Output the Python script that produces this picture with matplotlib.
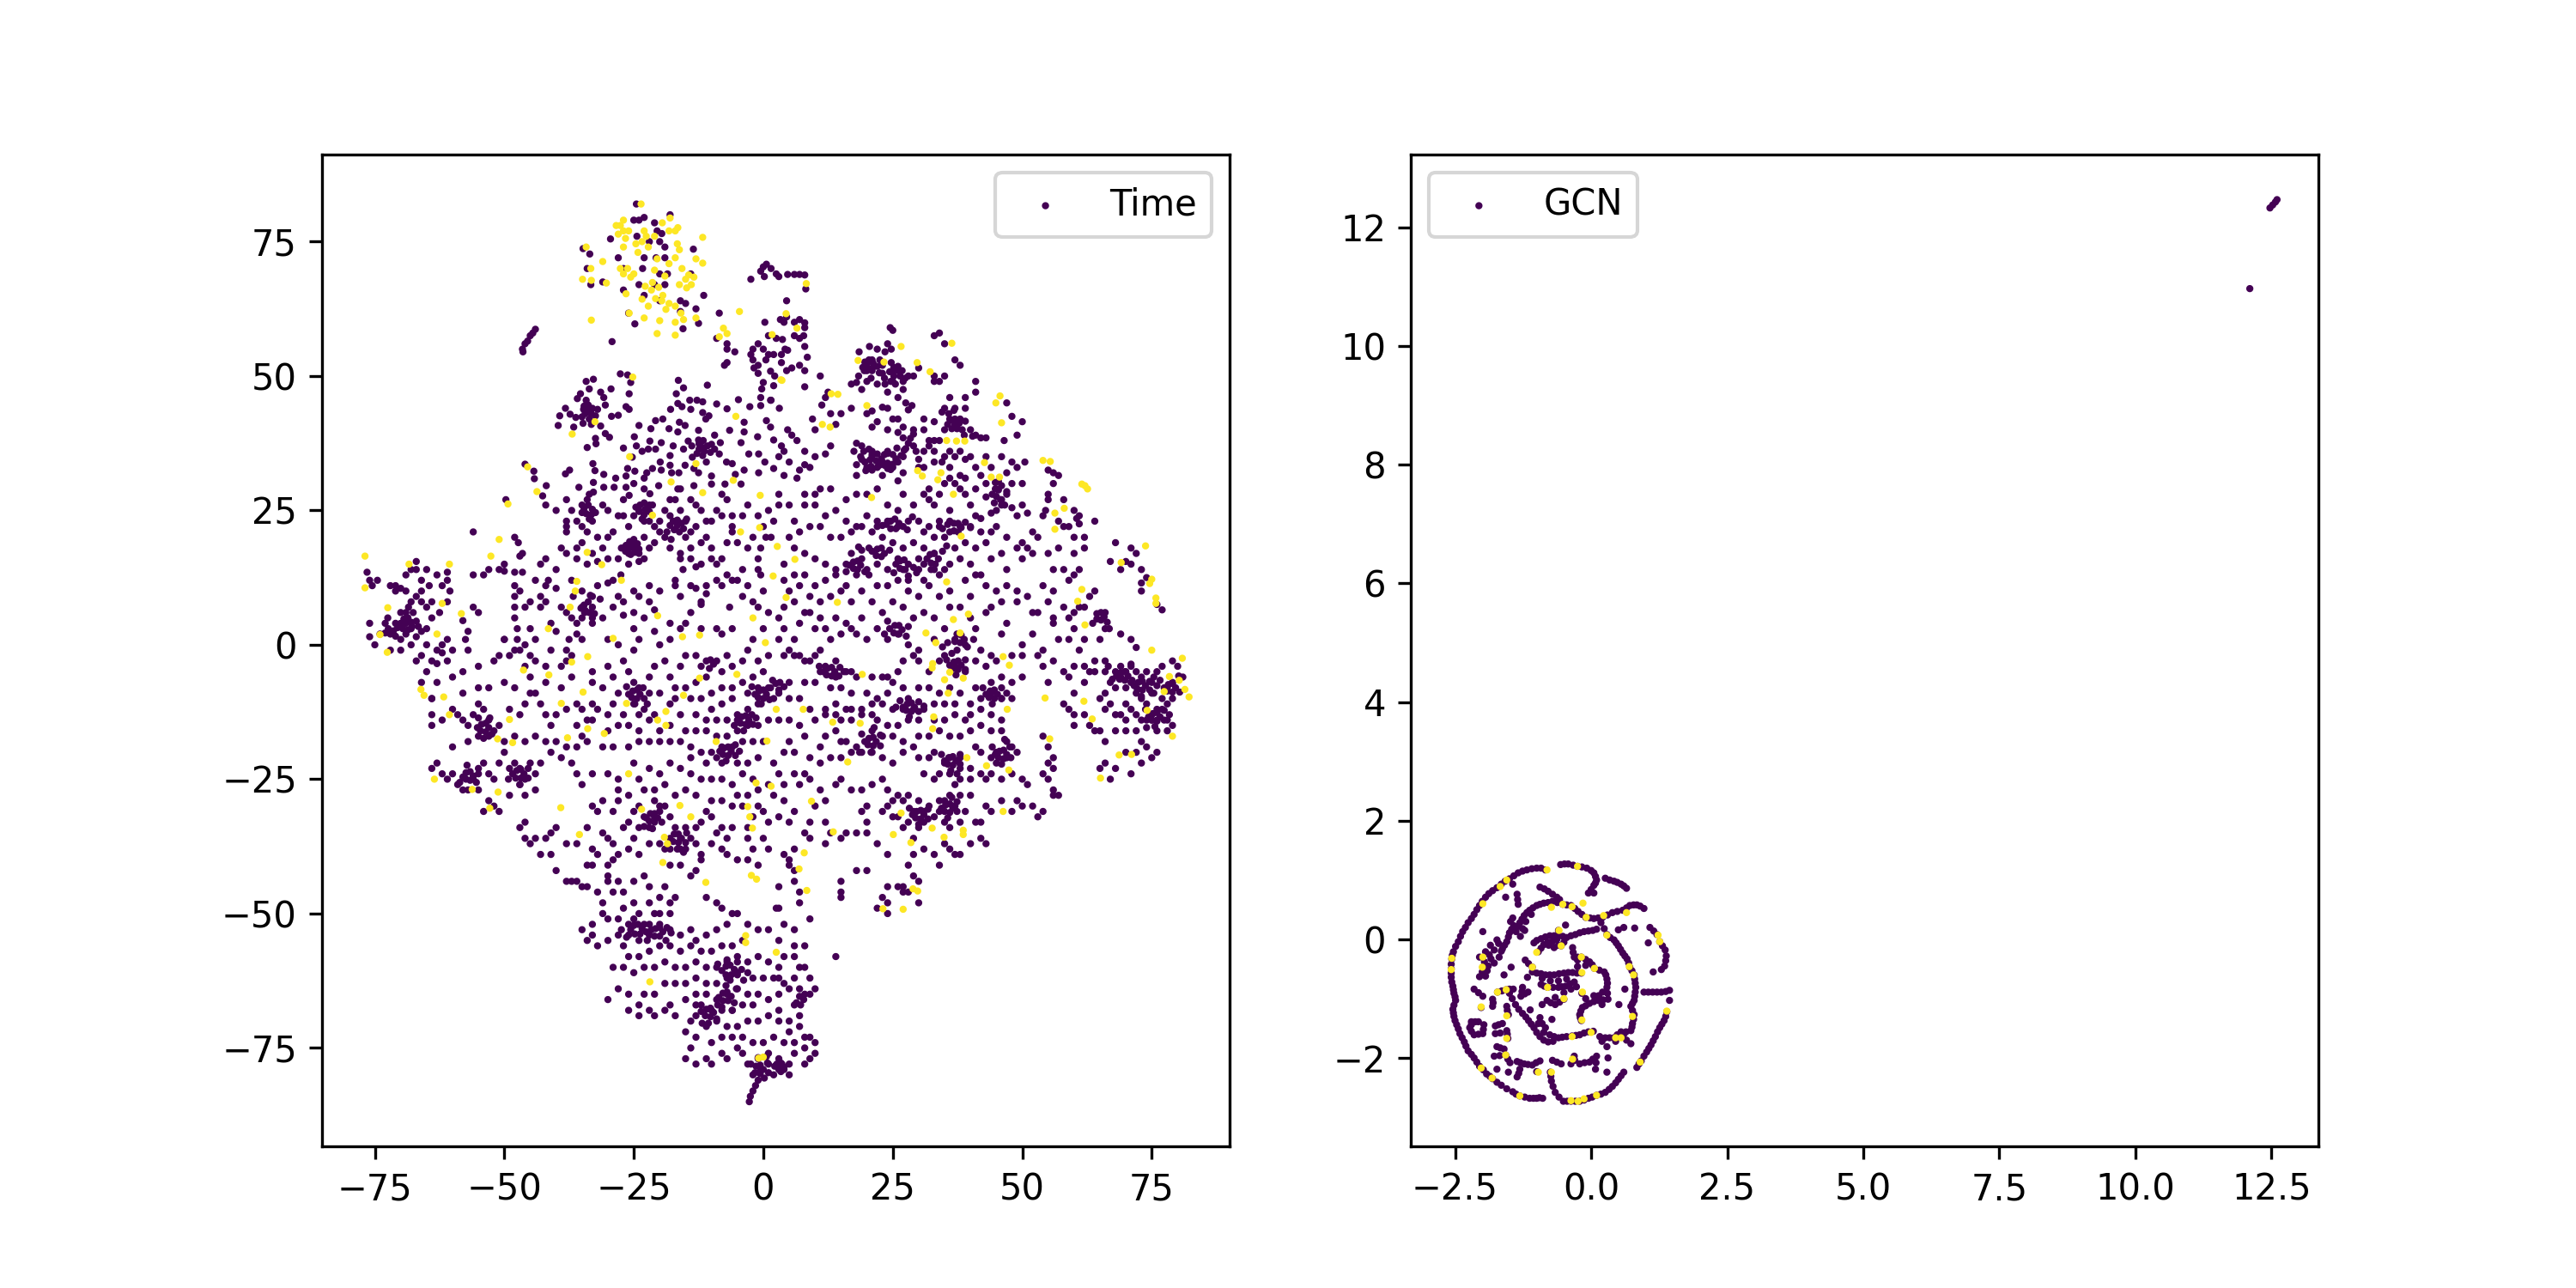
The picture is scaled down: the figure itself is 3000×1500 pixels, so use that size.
import numpy as np
import matplotlib
matplotlib.use("Agg")
import matplotlib.pyplot as plt

# values, (x, y) in data units

# left panel, class 0
time_top = [
    (-24.5,82),(-25,79),(-24,79),(-23,79.5),(-18,80),(-21,78.5),(-19.6,76.5),(-20.5,77),(-29.5,75.5),(-24.4,76),
    (-22,75),(-20,75),(-19,74),(-13.5,73.6),(-28,72),(-23,72),(-20.7,72),(-19,72),(-27,70),(-23.3,70),(-20,69),
    (-18.5,69),(-14,69),(-24,67),(-21,67),(-19,67),(-27,66),(-23,65),(-20,64),(-16,64),(-11.5,65),(-15,63.5),
    (-13,62.5),(-16,62),(-26,61.7),(-24.8,59.7),(-15.5,58.8),(-12.5,59.8),(-29.2,56.4),(-34.8,73.7),(-33.5,72.7),
    (-34,70),(-33.3,67),(-31,67.5),(-8.5,61.7),(-46,56),(-45.5,56.5),(-46.5,55),(-46.4,54.5),(-45,57.5),(-44.5,58),
    (-44,58.7),(0,70.3),(0.6,70.8),(1.5,70),(-.5,69.5),(2.5,69),(-2.4,68),(.2,68.5),(4.7,68.9),(6,68.9),(7,68.9),
    (8,68.8),(8.2,66.2),(3,68.5),(-9,57),(-7,56),(-7,55),(-5.5,54.5),(-7.5,52),(-7,52.5),(-2,53),(-2,55),(-1,56),
    (0,55),(.5,53),(-1,52),(-1,50.5),(1,54),(1,57.5),(2,54),(3.5,54),(0,48.8),(-.5,46),(1.5,45.5),(-.5,44.5),
    (-2.4,54),(-1.8,51.5),(.3,60),(2.5,57),(4,60),(4.5,61),(3.3,60.5),(3.7,56.8),(6,57.5),(7,57),(8,59.9),(4.7,54.8),
    (8,55.5),(3.5,52.5),(4.5,51),(5.5,51.5),(7,52),(8,51),(8.5,53.5),(2.2,50),
]
time_upper = [
    (-34.2,49),(-32.8,49.4),(-33.6,47.6),(-35.3,46.7),(-35.9,45.8),(-34.2,45.5),(-31.4,47),(-29.4,47.6),(-30.8,46),
    (-30.5,44.6),(-27.6,50.4),(-26.2,50.2),(-25.6,48.8),(-25.9,46.7),(-26.5,44.3),(-25.9,43.8),(-38.2,44),(-37.3,42.9),
    (-36.2,42.3),(-39.3,42.6),(-39.6,40.8),(-33.6,43.8),(-34.7,43.8),(-32,43.8),(-33.6,42),(-29.3,42.5),(-28,42.7),
    (-36.6,40.5),(-31.4,40.7),(-30.5,39.3),(-29.7,38.6),(-32.4,38.4),(-32.3,37.4),(-34,36.7),(-46,33.6),(-44.3,32.3),
    (-44.2,30.9),(-41.9,29.6),(-42.6,27.7),(-49.7,27),(-37.4,32.5),(-38.2,31.8),(-32.9,33.7),(-32.5,32.4),(-27,36.6),
    (-24.9,38.7),(-24.5,37),(-23.4,36),(-25.3,34.9),(-26.2,32.8),(-24.8,32.3),(-22.2,36.4),(-24,40.8),(-21.7,40.2),
    (-20.8,41.7),(-19.4,42),(-18.2,40.2),(-21.9,37.9),(-19.7,37.6),(-20.8,36.4),(-17.4,37),(-15.4,36.4),(-18,35.2),
    (-19.9,34),(-21.4,32.8),(-18,33.4),(-15.1,33.4),(-19.7,32.5),(-17.7,32),(-16.3,32),(-22.5,32),(-13.4,32.8),
    (-11.7,36.7),(-10,37.3),(-8.3,37.6),(-13.7,34.9),(-11.7,35.2),(-8.5,35.5),(-12.5,38.1),(-14.5,37.9),(-16.5,39.6),
    (-15.1,40.8),(-16.2,41.4),(-12.5,39.9),(-9.4,39),(-11.1,42),(-6.5,39.9),(-3.7,41.4),(-3.7,39.6),(-4.3,37.6),
    (-1.1,38.7),(2,38.1),(.6,41.7),(1.4,40.5),(-.9,35.5),(-2.8,35.5),(.3,34),(2,32.8),(-3.7,32.5),(-.9,32),(-6,33.7),
    (-5.4,31.7),(-7.1,34),(-10,31.4),(-7.4,29.9),(-4.3,29.9),(-10,29.9),(-12.5,32),(-13.4,29.6),(-16.5,29),(-20.2,29.6),
    (-23,31),(-26.5,31.4),(-28.5,31),(-30.8,31.7),(-32.8,30.2),(-35.6,29.3),(-32.8,28.4),(-30.8,29.3),(-28.8,29.3),
    (-26.5,29.3),(-25.9,27.8),(-23,29),(-21.9,28.1),(-16.4,49.2),(-15.4,47.8),(-10.8,48.3),(-16.8,46.7),(-16.5,44.9),
    (-14.2,45.5),(-12.8,45.5),(-11.7,45.2),(-17.9,43.8),(-15.7,44.3),(-14,43.8),(-11.7,43.2),(-10.5,42.6),(-9,44.8),
    (-7,43.9),(-4.8,45.6),(-2.6,44.3),(1.4,50.9),(-.3,47.6),(2,48.2),(1.4,45.5),(3.1,44),
    # upper right
    (4.5,64),(6,60),(7,60.5),(8,59),(7.8,57.5),(4.2,55),(8,48),(11,50),(12.5,47),(15,43),(17,44),(13,43),(14,41),
    (11.3,44.6),(12,46),(10,40),(9.5,42),(13,37),(12,35.5),(9,33),(8,36),(10,35),(8,33.5),(7,32.5),(5,34),(4,36),
    (4.7,40),(5.5,39),(6.5,38),(3.5,37),(3,35),(6.5,31),(4,31.5),
    (18.5,54.5),(20.5,55.5),(22,55),(23.5,54.5),(24,56),(24.7,52.5),(24.7,55),(25,58.5),(24.5,59),(22.5,53),(21,53),
    (20,52),(19.5,51),(21,51),(23,50.5),(25,51),(26,51),(25,49),(20,49),(18,48.8),(17,48.5),(19,47.5),(22,48.5),(23.5,48.5),
    (25.5,48.5),(27,47.5),(26,46),(24,47),(28,50),(29,50),(30,51.5),(27.5,45),(27,49),(33,49),(34,49),(33,50),(35,50),
    (34,58),(33,57.5),(35,56),(37,53),(38,52),(41,49),(31,42),(28,43.7),(28.7,44.5),(24,44),(23,44.2),(21,43.5),(20,43),
    (22,41.5),(21,40.5),(26,42),(27,40.5),(29,40),(31,40),(32,38),(25,42),(26,39.5),(27,38.5),(28,37.5),(27.5,36.5),
    (29,37),(29.5,36),(24,40),(21,36),(22,35.5),(24,36),(18,37.5),(17.5,36),(19,37),(19,34.5),(20,33),(21,35),(21,32.5),
    (22,33),(23,34),(24,32.8),(25,33),(26,34),(27,35),(27,32),(18,33.5),(26,30.5),(23,31.5),(18,31.5),(33,38),(35,35),
    (32,37),(31,36),(30,34.5),(33,34),(31,33),(33,36),(38,36),(39,34.5),(36,33),(34.5,34),(36,36),(37,35),(40,40),
    (42,38.5),(41,39),(43,38.5),(38,42),(39,44),(37,41),(35,40),(36,42),(37,44),(35,44),(36,46),(39,46),(41,47),(34.5,43.3),
    (33,41.5),(34,38),(47,45),(48,42.5),(50,41.5),(49,39),(46,35),(46.5,38),(43,35),(44,33),(40,35),(41,33),(47,32),
    (48,34),(49,33),(50.5,34),(48,30),(50,30),(47,28),(46,26),(45,25),(48,25.5),(47,28.5),(50,26),(49,24),(51,24.5),(45,22),
    (56,30),(55,27),(55,28),(54,24),(54.5,25),(57,23),(58,22),(60,20),(59,22),(61,22.5),(58,27),(60,25),(61,24),(60.5,23.5),
    (56,32),(55,32.5),(57,31.5),(39,28),(40,26),(41,24),(42,23.5),(43,27.5),(44,24.5),(45,29),(46,27),(42,31.5),(43,30),
    (36,25),(35,30),(34,28),(36,31),(33,26),(32,29),(30,33),(31,28),(32,27),(37,30),(38,29),(39,31),(38,31.5),(41,29),
]
time_mid_left = [
    (-48,20),(-47.3,19),(-47,16.5),(-46.5,13.5),(-43,15),(-42,16),(-38,23),(-56,21),(-51,14),(-53,14),(-50,15),(-50,13.7),
    (-48,13.5),(-46.5,17),(-44,12),(-41.5,12),(-40,14),(-42,11),(-40,10.5),(-37,12),(-36.7,9),(-35,10),(-33,9),(-35,7),
    (-32,11),(-29,12),(-27.5,13),(-30,11.5),(-28,9),(-27,8),(-31.5,8.5),(-33,5),(-34.5,6),(-36,4),(-33,4),(-31,5),(-36,2),
    (-37,5),(-38,6),(-41,4),(-40,2.5),(-43,7),(-45,8),(-46,7),(-43,9),(-47.5,3),(-47.5,1),(-46,0),(-44,1),(-45,3),
    (-48,-1),(-50,1),(-48,9),(-48,11),(-47,10),(-48,7),(-48,5),(-42,8),(-39,7),(-37.5,1),(-38,-1),(-29,7),(-27,5.5),
    (-25,6),(-23,5),(-21,6.5),(-20,10),(-17,12),(-17,11),(-16,9),(-14,11),(-13,10.5),(-11,11),(-11,9.5),(-12,8),(-12,7.5),
    (-25,10),(-24,9),(-22,11),(-22,8),(-25,3),(-24,1),(-21,2.5),(-18,4),(-16,3),(-15,4),(-14,6),(-12,3),(-9,3),(-6,3),(-8,2),
    (-6.5,7),(-4,9),(-8,11),(-9,12),(-7,13),(-6,12),(-9,15),(-10,16),(-12,15),(-13,14.5),(-15.5,14),(-16,16),(-16,17),
    (-18,18),(-19,20),(-21,19),(-23,20),(-25,18),(-25,19),(-24,17),(-26,17),(-27,18),(-28,16),(-24,15.5),(-23,16),(-26,15),
    (-22,18),(-20,21),(-21,22),(-23,23),(-26,22),(-28,24),(-30,25),(-31,26),(-33,23),(-35,26),(-36,23),(-37,25),(-38,22),
    (-40,25),(-42,26),(-38,27),(-35,22),(-34,21),(-32,20),(-30,20),(-29,21),(-35,19),(-36,16),(-34,15),(-33,17),(-32,15.5),
    (-31,18),(-36,18),(-38,17),(-39,18),(-38,21),(-30,16),(-18,27),(-17,27),(-16,25),(-17,23),(-15,23),(-14,21),(-13,22),
    (-11,23),(-10,23),(-9,25),(-8,24),(-12,25),(-13,26),(-14,27),(-11,20),(-12,19),(-14,18),(-14,16),(-10,18),(-8,16),
    (-7,19),(-6,21),(-5,19),(-3,18),(-1,16),(-4,14),(-5,12),(-3,11),(-2,8),(-1,7),(0,10),(-.5,13),(0,3),(1,6),(-2,1),
    (-6,24),(-6,22),(-4,24),(-3,26),(-1,24),(0,22),(-2,20),(-.5,18),(-1,14),(.5,20),(2,23),(3,26),(1.5,20),(1,25),(3,28),
    (-18,24),(-19,25),(-16,29),(-8,28),(-7,27),(-20,23),(-22,26),(-24,25),(-25,24),(-27,24),(-27,27),(-25,30),(-22,23),
    # far left lobe
    (-76.5,13.5),(-76,12),(-75.5,11),(-74.5,12),(-72,11),(-71,11),(-70,10.5),(-69,10),(-71,10),(-68,14),(-67,14),(-67,15.5),
    (-65,14),(-63,13),(-61,13.5),(-61,12),(-60.5,10),(-66,12),(-64.5,11),(-62,11),(-66,10),(-69,13),(-56,13),(-54,13),
    (-61,8),(-62.5,6),(-64,8),(-66,8),(-67,9),(-68,8),(-65,7),(-64,5),(-68.5,7),(-70,6),(-72.5,5),(-73,4),(-71,4),(-69,4),
    (-68,3),(-66,2.5),(-65,3),(-67,1.5),(-69,2),(-70,1),(-72,2),(-74,2),(-76,4),(-76,1.5),(-75,0),(-72,-1),(-70,-1),(-68,0),
    (-65,0),(-63,-1),(-62,0),(-61,1),(-58,4.5),(-57,2.5),(-57.5,1),(-56,7),(-55,6),(-62,-1.5),(-60,-1),(-66,-2),(-67,-3),
    (-64,-3),(-63,-3.5),(-61,-3),
    # band y 0..-10 left
    (-50,1),(-49,-2),(-47,-1),(-45,-2),(-41,-1),(-38,-3),(-35,1),(-37,-2),(-30,1),(-28,0),(-25,-1),(-20,0),(-18,1),
    (-57,-1),(-52,-3),(-51,-2),(-46,-4),(-45,-6),(-42,-4),(-44,-3),(-39,-4),(-37,-6),(-33,-5),(-33,-7),(-30,-4),(-29,-6),
    (-27,-3),(-26,-5),(-25,-7),(-24,-8),(-22,-6),(-21,-4),(-19,-3),(-18,-6),(-17,-8),(-16,-4),(-15,-2),(-13,-2),(-12,-4),
    (-11,-6),(-9,-3),(-8,-5),(-7,-2),(-6,-4),(-4,-3),(-3,-1),(-1,-3),(1,-2),(0,-5),(-2,-6),(-4,-7),(-6,-8),(-8,-8),(-10,-9),
    (-13,-7),(-15,-8),(-17,-10),(-14,-10),(-12,-10),(-10,-12),(-8,-11),(-6,-10),(-3,-9),(-1,-8),(1,-8),(2,-10),(-1,-11),
    (-3,-12),(-5,-13),(-7,-14),(-9,-14),(-11,-14),(-13,-13),(-16,-13),(-18,-11),(-20,-9),(-22,-9),(-21,-13),(-23,-12),
    (-25,-11),(-28,-9),(-29,-11),(-31,-8),(-27,-13),(-30,-13),(-33,-11),(-35,-12),(-34,-14),(-36,-11),(-39,-8),(-42,-7),
    (-45,-9),(-48,-8),(-50,-7),(-53,-8),(-55,-8),(-58,-9),(-60,-6),(-63,-7),(-65,-5),(-66,-7),(-55,-4),(-58,-5),(-64,-10),
]
time_mid_right = [
    (5,-1),(7,-2),(9,-3),(11,-1),(13,1),(12,3),(14,5),(16,4),(18,2),(20,1),(22,3),(24,1),(26,2),(28,0),(30,-1),(33,1),(35,3),
    (37,1),(39,0),(41,3),(40,5),(42,-1),(44,-2),(46,2),(48,-2),(50,0),(52,2),(54,-1),(47,4),(43,6),(36,7),(33,5),(31,6),
    (29,5),(27,7),(25,8),(23,6),(21,8),(19,5),(17,3),(15,2),(10,3),(8,6),(6,8),(4,7),(3,5),(5,10),(7,11),(9,9),(11,8),
    (13,9),(15,10),(17,8),(19,10),(22,11),(24,11),(26,12),(28,10),(30,9),(32,11),(34,9),(36,10),(38,7),(40,9),(44,7),(45,10),
    (47,11),(49,10),(49,8),(46,8),(51,9),(52,6),(53,6),(55,8),(56,5),(58,7),(59,5),(60,6),(61,7),(62,7),(63,9),(64,10),
    (59,12),(58,14),(60,13),(61,14),(56,10),(54,11),(56,14),(55,17),(57,18),(60,17),(62,18),(62,20),(64,23),
    (68,19),(71,18),(72,17),(70,15.5),(69,14),(71,15),(73,14),(67,15.5),(73,11.5),(73,10),(74,12.5),(76,7.5),(77,6.5),(66,3),(66,6),
    (60,3),(59,1),(62,1),(65,1),(61,-1),(57,1),(56,4),(69,2),(71,1),(72,-.5),
    (38,16),(36,15),(35,14),(34,13),(33,14),(31,12),(30,14),(28,12),(27,14),(26,16),(24,14),(22,15),(20,14),(19,16),(17,17),(16,15),
    (14,14),(12,15),(10,16),(8,17),(6,18),(5,20),(7,21),(9,22),(11,22),(13,20),(15,20),(17,21),(19,22),(21,21),(23,20),(25,19),(27,18),
    (29,19),(31,18),(33,17),(35,20),(37,18),(39,19),(41,18),(43,19),(44,21),(42,21),(40,22),(38,22),(36,23),(34,23),(32,22),(30,23),
    (28,23),(26,22),(24,23),(22,23),(20,24),(18,22),(16,23),(14,25),(12,24),(10,26),(8,26),(6,23),(5,26),(8,28),(10,28),(11,29),(13,29),
    (16,27),(18,28),(20,28),(22,29),(24,26),(26,25),(27,28),(29,26),(36,21),(33,20),(31,21),(47,20),(49,18),(50,19),(52,17),(46,17),
    (44,16),(40,15),(42,13),(47,14),(50,16),(53,20),(52,21),(51,18),(39,12),(41,13),(43,11),(12,12),(14,13),(16,11),(18,13),(8,13),(6,13),
    (4,15),(4,12),(10,11),(3,1),(4,3),(7,4),(9,6),(11,5),(6,1),(4,-2),
]
time_lower_right = [
    (6,-2),(8,-3),(10,-2),(12,-4),(14,-3),(11,-5),(14,-6),(16,-5),(17,-5),(18,-6),(21,-6),(23,-6),(24,-6),(25,-7),(27,-3),(26,-5),(29,-2),
    (30,-3),(32,-5),(34,-3),(35,-2),(37,-4),(39,-5),(41,-3),(43,-4),(45,-3),(46,-6),(48,-7),(50,-6),(50,-2),(53,-2),(54,-4),(55,-7),(56,-3),
    (5,-7),(8,-7),(10,-7),(13,-8),(15,-8),(17,-9),(20,-9),(22,-10),(24,-9),(27,-8),(28,-10),(30,-8),(32,-8),(34,-9),(36,-8),(38,-9),(41,-8),
    (42,-10),(44,-9),(46,-10),(48,-10),(44,-7),(40,-11),(37,-11),(35,-11),(33,-11),(31,-12),(29,-12),(27,-12),(25,-12),(23,-11),(21,-11),
    (19,-12),(17,-12),(16,-12),(14,-11),(12,-12),(9,-12),(7,-10),(5,-10),(3,-9),(3,-14),(5,-14),(7,-15),(10,-14),(12,-13),(14,-13),(15,-14),
    (17,-14),(19,-13),(21,-13),(22,-14),(24,-15),(26,-15),(28,-14),(30,-14),(33,-14),(35,-14),(37,-13),(39,-14),(40,-13),(42,-12),(44,-13),
    (46,-14),(46,-16),(44,-16),(42,-15),(40,-16),(38,-17),(36,-17),(34,-16),(32,-17),(30,-17),(29,-19),(27,-18),(25,-17),(23,-17),(21,-16),
    (20,-18),(18,-19),(16,-18),(15,-18),(14,-16),(12,-17),(11,-19),(8,-17),(5,-18),(4,-20),(6,-20),(9,-21),(11,-22),(13,-21),(15,-21),(17,-20),
    (19,-20),(21,-20),(23,-21),(25,-22),(27,-20),(30,-21),(32,-21),(33,-20),(35,-22),(36,-21),(38,-21),(41,-19),(42,-20),(44,-21),(45,-20),
    (47,-18),(48,-19),(49,-20),(47,-21),(45,-22),(44,-24),(42,-24),(40,-23),(38,-23),(36,-24),(34,-24),(33,-25),(31,-24),(38,-25),(37,-26),
    (40,-25),(43,-25),(46,-25),(48,-24),(50,-25),(51,-26),(3,-24),(4,-26),(6,-24),(8,-24),(9,-25),(7,-26),(2,-28),(11,-27),(14,-26),(15,-25),
    (17,-27),(19,-27),(21,-26),(23,-25),(24,-27),(26,-28),(28,-28),(27,-29),(29,-31),(31,-31),(30,-29),(32,-30),(34,-31),(35,-29),(36,-28),
    (37,-30),(38,-28),(40,-28),(43,-30),(44,-31),(46,-29),(48,-31),(49,-29),(50,-30),(52,-30),(54,-31),(53,-32),(25,-29),(24,-30),(23,-31),
    (25,-32),(26,-32),(28,-33),(30,-34),(31,-33),(33,-32),(35,-33),(36,-34),(38,-33),(39,-31),(41,-33),(42,-33),(19,-31),(20,-30),(12,-29),
    (10,-30),(9,-33),(8,-35),(6,-31),(5,-33),(4,-29),(3,-32),(9,-36),(12,-33),(13,-35),(12,-37),(15,-36),(16,-35),(18,-35),(20,-35),(20,-33),
    (22,-37),(24,-39),(27,-34),(29,-36),(29,-39),(31,-38),(33,-39),(35,-37),(36,-38),(37,-39),(38,-39),(40,-37),(42,-36),(43,-37),
    (28,-41),(29,-43),(30,-44),(27,-45),(26,-45),(24,-45),(23,-47),(24,-48),(27,-46),(28,-46),(30,-48),(24,-50),(22,-49),(34,-41),(20,-42),(18,-42),
    (15,-44),(15,-46),(15,-47),(5,-40),(6,-38),(5,-41),(4,-39),(6,-42),(6,-44),(7,-46),(3,-45),(7,-48),(3,-49),(4,-52),(6,-53),(8,-56),(14,-58),
    (9,-51),(2.5,-49),(3,-55),
    # right lobe
    (58,-5),(59,-6),(60,-4),(62,-4),(63,-5),(64,-5),(62,-7),(60,-9),(58,-11),(59,-12),(60,-13),(60,-15),(62,-13),(63,-15),(64,-16),(65,-16),
    (64,-3),(66,-3),(66,-5),(68,-5),(69,-4),(70,-5),(69,-6),(71,-4),(72,-5),(73,-6),(74,-5),(75,-7),(76,-5),(77,-4),(79,-3),(80,-4),(81,-6),(79,-7),
    (78,-8),(77,-10),(75,-9),(74,-11),(76,-12),(75,-13),(73,-10),(72,-9),(71,-7),(70,-8),(68,-8),(67,-7),(66,-9),(65,-10),(67,-11),(66,-12),
    (68,-13),(69,-13),(70,-11),(71,-12),(70,-14),(72,-13),(73,-14),(74,-14),(75,-14),(76,-14),(77,-12),(78,-11),(79,-10),(78,-14),(76,-16),(78,-16),(79,-15),
    (72,-16),(70,-16),(68,-16),(66,-18),(73,-18),(72,-20),(74,-19),(75,-21),(76,-20),(73,-22),(71,-24),(68,-23),(66,-22),(65,-23),(67,-25),(70,-20),
    (56,-21),(55,-22),(55,-19),(54,-17),(56,-23),(54,-24),(55,-25),(56,-27),(56,-28),(57,-28),
]
time_lower_left = [
    (-64,-10),(-64,-13),(-62,-14),(-64,-15),(-60,-12),(-59,-13),(-58,-14),(-57,-15),(-55,-11),(-56,-13),(-54,-12),(-53,-14),(-52,-16),(-51,-15),(-49,-12),
    (-47,-13),(-46,-11),(-44,-9),(-43,-11),(-42,-13),(-41,-15),(-40,-13),(-38,-12),(-36,-15),(-35,-17),(-33,-14),(-32,-12),(-30,-16),(-28,-15),(-26,-15),
    (-24,-16),(-24,-13),(-22,-14),(-20,-16),(-18,-15),(-15,-16),(-13,-16),(-11,-16),(-9,-17),(-7,-17),(-5,-16),(-3,-15),(-1,-15),(1,-14),(0,-18),
    (-2,-18),(-4,-18),(-6,-19),(-8,-19),(-10,-20),(-12,-20),(-14,-19),(-16,-18),(-18,-18),(-20,-18),(-22,-18),(-24,-18),(-26,-19),(-29,-19),(-31,-19),
    (-34,-18),(-36,-19),(-38,-19),(-40,-18),(-42,-18),(-44,-17),(-46,-18),(-48,-17),(-50,-18),(-53,-17),(-55,-17),(-57,-18),(-60,-19),
    (-64,-23),(-63,-22),(-62,-24),(-61,-25),(-60,-24),(-59,-26),(-58,-27),(-57,-27),(-56,-25),(-55,-24),(-54,-22),(-53,-24),(-52,-25),(-51,-22),(-50,-20),
    (-49,-23),(-48,-22),(-47,-23),(-46,-25),(-45,-22),(-44,-24),(-43,-22),(-55,-27),(-53,-29),(-52,-30),(-51,-31),(-54,-31),(-49,-28),(-47,-26),(-46,-28),
    (-44,-27),(-41,-20),(-39,-21),(-37,-22),(-36,-24),(-35,-26),(-33,-24),(-30,-24),(-28,-25),(-25,-22),(-24,-25),(-22,-23),(-20,-24),(-18,-22),(-16,-23),
    (-14,-24),(-12,-25),(-10,-25),(-8,-25),(-6,-26),(-4,-24),(-2,-25),(1,-26),(2,-22),(-1,-21),(-3,-22),(-5,-22),(-8,-22),(-11,-22),(-14,-21),
    (-46,-36),(-45,-37),(-44,-36),(-43,-39),(-41,-39),(-46,-33),(-47,-34),(-40,-42),(-38,-44),(-37,-44),(-36,-44),(-35,-45),(-34,-45),
    (-38,-37),(-36,-37),(-33,-38),(-31,-35),(-30,-36),(-29,-37),(-28,-39),(-29,-40),(-32,-39),(-30,-41),(-30,-43),(-33,-41),(-34,-41),
    (-27,-34),(-26,-33),(-25,-31),(-24,-30),(-23,-32),(-22,-34),(-21,-32),(-20,-30),(-21,-29),(-19,-30),(-18,-32),(-17,-34),(-16,-36),(-15,-34),(-14,-36),
    (-13,-34),(-12,-33),(-11,-31),(-10,-32),(-9,-35),(-8,-34),(-7,-36),(-6,-34),(-19,-38),(-20,-37),(-18,-38),(-16,-38),(-15,-38),(-13,-37),(-12,-39),(-10,-37),
    (-26,-38),(-25,-36),(-24,-34),(-24,-39),(-22,-37),(-18,-41),(-16,-41),(-14,-43),(-13,-42),(-12,-40),(-8,-38),(-7,-39),(-5,-40),(-3,-36),(-3,-34),(-2,-32),
    (-2,-38),(-3,-40),(-1,-30),(0,-31),(1,-33),(0,-36),(1,-38),(-1,-41),(-8,-29),(-10,-29),(-13,-28),(-15,-27),(-17,-28),(-19,-26),(-21,-27),(-23,-27),
    (-6,-30),(-4,-30),(-5,-28),(-3,-28),(-1,-27),(-26,-28),(-28,-29),(-31,-29),(-28,-27),(-29,-31),(-33,-30),(-32,-31),(-34,-34),(-40,-34),(-41,-35),(-42,-36),
    # bottom lobe
    (-30,-44),(-32,-46),(-31,-48),(-29,-46),(-28,-44),(-27,-46),(-27,-49),(-25,-48),(-25,-44),(-23,-43),(-22,-45),(-22,-48),(-24,-50),(-20,-47),(-19,-45),(-18,-48),
    (-17,-47),(-18,-50),(-20,-50),(-21,-50),(-23,-52),(-25,-51),(-26,-52),(-28,-51),(-30,-51),(-31,-50),(-33,-52),(-33,-54),(-35,-53),(-34,-55),(-32,-56),
    (-30,-55),(-28,-54),(-27,-56),(-26,-54),(-24,-55),(-22,-54),(-20,-52),(-18,-53),(-16,-54),(-14,-53),(-13,-55),(-11,-54),(-9,-53),(-7,-52),(-6,-50),(-8,-49),
    (-9,-48),(-11,-47),(-5,-50),(-3,-52),(-1,-53),(1,-53),(-4,-55),(-6,-56),(-8,-56),(-10,-57),(-12,-57),(-14,-56),(-16,-57),(-18,-56),(-20,-56),(-22,-57),(-24,-58),
    (-26,-58),(-27,-60),(-29,-60),(-25,-61),(-23,-60),(-21,-60),(-19,-59),(-17,-60),(-15,-60),(-13,-59),(-11,-60),(-9,-60),(-7,-59),(-5,-58),(-3,-59),(-1,-58),
    (1,-59),(3,-60),(2,-62),(0,-62),(-2,-62),(-3,-61),(-5,-61),(-7,-62),(-9,-63),(-11,-63),(-13,-62),(-15,-63),(-17,-63),(-19,-63),(-23,-65),(-21,-65),(-26,-65),
    (-28,-64),(-30,-66),(-26,-68),(-24,-69),(-24,-67),(-22,-68),(-21,-69),(-19,-68),(-18,-67),(-17,-69),(-15,-66),(-13,-65),(-11,-65),(-9,-66),(-7,-65),
    (-5,-64),(-3,-65),(-1,-65),(1,-66),(3,-65),(-2,-67),(-4,-67),(-6,-68),(-8,-68),(-10,-68),(-12,-67),(-13,-69),(-14,-70),(-15,-72),(-13,-73),(-14,-75),(-15,-77),
    (-11,-71),(-9,-70),(-7,-71),(-5,-71),(-3,-70),(-1,-70),(1,-69),(3,-70),(-4,-73),(-6,-73),(-8,-73),(-10,-74),(-8,-76),(-7,-77),(-10,-78),(-11,-77),(-13,-78),
    (-5,-75),(-2,-74),(0,-74),(2,-73),(4,-74),(-1,-77),(-3,-78),(-4,-76),(1,-76),(3,-77),(5,-78),(6,-76),(6,-74),(4,-79),(2,-80),(1,-78),(-.5,-79),(-1,-81),
    (-2,-80),(-2,-83),(-2.5,-84),(-2.7,-85),(-1.5,-82),(5,-70),(7,-69),(3,-68),(6,-67),(8,-65),(7,-71),(8,-73),(8,-75),(5,-72),(9,-73),(10,-76),(10,-74),(8,-60),
    (5,-64),(6,-62),(7,-60),(6,-58),(10,-64),(9,-65),(7,-64),(9,-62),(4,-63),(3,-62),(6,-56),(4,-58),(9,-77),(8,-78),(5,-80),
]
# the tight dark clumps of the left panel
time_clumps = [
    (-26.5,18.5),(-25.8,19.2),(-25,19.6),(-24.3,18.8),(-24,17.8),(-24.8,17.2),(-25.6,16.8),(-26.6,17.4),(-27.4,18),(-25.4,18.1),(-24.6,18.2),(-26,18),
    (-23.8,26),(-23,26.4),(-22.2,25.8),(-22,24.8),(-23,24.2),(-24,24.8),(-22.8,25.2),(-21.4,26),(-24.6,25.6),(-23.4,23.4),
    (-34.6,25.4),(-33.8,26),(-33,25.2),(-33.2,24.2),(-34.2,24.4),(-35,24.6),(-33.6,23.4),(-32.4,24.6),(-34,27),(-33.6,28),
    (-34.6,7.4),(-33.8,8),(-33,7),(-33.6,6),(-34.4,6.4),(-35.2,6.8),(-32.6,5.8),(-35,5),(-33.4,9.2),
    (-70,4),(-69.4,4.8),(-68.6,5),(-68,4.2),(-67.8,3.4),(-68.6,2.8),(-69.6,3),(-70.6,3.2),(-67,4.4),(-66.6,3.4),(-71.4,2.6),(-72.4,3),(-73,2.2),(-67.6,6),(-69,6),(-71,1.6),
    (-17.4,23),(-16.6,23.2),(-15.8,22.6),(-15.4,21.6),(-16.2,21),(-17.2,21.4),(-18,22.2),(-16.6,22.2),(-14.8,23.4),(-18.6,21),(-17.8,19.6),(-15,20),
    (-12.4,37.4),(-11.6,38),(-10.8,37),(-11.4,36),(-12.4,36.4),(-10.2,35.8),(-12.8,35.6),(-9.4,36.4),(-13.8,37),(-11,34),
    (-34.6,44.4),(-33.8,44.6),(-33,44),(-33.2,43),(-34.4,43),(-35,42.4),(-33.2,41),(-32.4,42.6),(-34.8,41.2),
    (19.4,36),(20.4,36.4),(21,35.4),(20.6,34.4),(19.6,34),(18.8,35),(21.8,34.2),(22.4,33.4),(19.8,32.4),(20.8,33.2),(23.4,35.4),(23.4,33.4),
    (24,35.6),(25,35.4),(25.6,34.6),(25,33.6),(24,33.8),(26.6,35.2),(27.2,36.2),(25.8,36.6),(22.8,34.6),(24.6,32.6),(28.4,38.4),(29,39.2),
    (19.6,52.6),(20.4,53),(21.2,52.4),(21,51.4),(20,51),(19.2,51.6),(22,51.8),(22.4,50.6),(18.4,50),(20.8,49.6),
    (25.2,51.6),(26,51.8),(26.8,51),(26.4,50),(25.2,50),(24.4,50.8),(27.4,49.6),(24.6,49),(23.4,49.6),(23,52),
    (36.2,41.8),(37,42),(37.8,41.2),(37.4,40.2),(36.4,40.2),(35.6,41),(38.4,40),(38.8,39),(35.8,43),(36.8,43.6),(39,41.6),(40.4,38.8),
    (44.8,30.2),(45.4,30.4),(46,29.6),(45.4,28.8),(44.8,29),(45,27.6),(45.8,27),(44.6,26.4),(44.2,28),(46.6,26),
    (24.6,23),(25.4,23.4),(26.2,22.6),(25.6,21.6),(24.6,21.6),(23.8,22.4),(27,22),(27.8,21.4),(23,22.2),(22,22),(28.8,23.8),
    (26.4,15.6),(27.2,15.8),(28,15),(27.4,14),(26.4,14.2),(25.6,15),(29,14.4),(29.6,13.4),(25.2,13.4),(28,12.8),(30,16),
    (32.2,16.8),(33,17),(33.8,16),(33.2,15),(32.4,15.2),(31.6,16),(34.6,17.4),(35.4,18.4),(32.4,14),(31,15),
    (36.8,22.6),(37.6,22.6),(38.2,21.8),(37.6,21),(36.8,21.2),(39,22.8),(40,21.8),(35.6,22.4),(34.6,21.6),(34,22),
    (22,17.8),(22.8,18),(23.4,17),(22.8,16.4),(21.8,16.6),(21,17.4),(24.4,17.6),(20.4,18),(19,17.6),(18.4,18.2),
    (17.4,15.4),(18.2,15.6),(18.8,14.8),(18.2,14),(17.4,14.2),(16.6,14.8),(19.6,13.6),(20.4,13),(16,13.6),
    (25.4,3.6),(26.2,3.6),(26.8,2.8),(26.2,2),(25.2,2.2),(24.4,3),(27.6,1.6),(24,4.4),(23.4,2),(28,3.4),
    (37.4,2),(38.2,1.8),(38.8,1),(38,.4),(37,.6),(39.4,-.4),(37.4,-1),(36.4,-1.6),(40.6,1),(35.6,.4),(34.6,-.4),
    (64.4,5.8),(65.2,6),(65.8,5.2),(65.2,4.6),(64.4,4.8),(66.4,4.2),(66.8,3),(63.6,4),
    (-25,-52.2),(-24.2,-52),(-23.4,-52.8),(-23.8,-53.8),(-24.8,-53.8),(-25.6,-53),(-22.6,-53.4),(-26.4,-54.4),(-27.4,-53),(-22,-52),
    (-20.8,-52.8),(-20,-52.6),(-19.4,-53.4),(-20,-54.2),(-21,-54.2),(-18.6,-52.6),(-17.8,-53.6),(-21.6,-53),(-22.4,-55),(-18.8,-55),
    (-7.2,-59.8),(-6.4,-59.6),(-5.6,-60.4),(-6.2,-61.4),(-7.2,-61.4),(-8,-60.6),(-5,-61.4),(-4.2,-60.4),(-8.8,-59.4),(-7,-58.6),(-6.4,-62.4),(-5,-59),(-3.8,-62.4),
    (-7.8,-64.8),(-7,-64.6),(-6.2,-65.4),(-6.8,-66.2),(-7.8,-66.2),(-8.6,-65.6),(-5.6,-66.6),(-7.2,-63.4),(-5.2,-64),(-8,-67.4),(-6,-68),
    (-11,-67.8),(-10.2,-67.6),(-9.6,-68.4),(-10.2,-69.2),(-11.2,-69),(-12,-68.2),(-10.6,-70.4),(-9,-69.6),(-11.8,-70.4),(-8.8,-67),(-13,-67),
    (-1.4,-78.4),(-.6,-78.2),(0,-79),(-.6,-79.8),(-1.6,-79.6),(.8,-77.8),(1,-79.6),(-2.4,-78),(.2,-80.6),(-1,-76.8),(.6,-76.6),(2.2,-78.4),(3,-79),(3.6,-78),
    (-47.6,-23.4),(-46.8,-23.2),(-46.2,-24),(-46.8,-24.8),(-47.8,-24.8),(-48.4,-24),(-45.4,-24.8),(-47,-26),(-49.2,-25),(-45.4,-23),
    (-57.4,-23.8),(-56.6,-23.6),(-56,-24.4),(-56.6,-25.2),(-57.4,-25),(-58,-24.6),(-55.4,-25.6),(-58.6,-25.6),(-57.2,-22.4),(-55,-23),
    (-54.4,-14.8),(-53.6,-14.6),(-53,-15.4),(-53.6,-16.2),(-54.6,-16),(-55.2,-15.4),(-54,-17.4),(-52.4,-16.6),(-55,-13.6),(-52.8,-13.6),
    (-21.8,-31.4),(-21,-31.4),(-20.4,-32.2),(-21,-33),(-22,-32.8),(-22.6,-32.2),(-19.6,-33),(-21.4,-34.2),(-20,-31),(-23,-33.8),
    (-17.2,-35.2),(-16.4,-35.2),(-15.8,-36),(-16.4,-36.8),(-17.4,-36.6),(-18,-36),(-15,-36.8),(-16.6,-38),(-14.8,-35),(-15.4,-38.6),
    (-7.6,-19.2),(-6.8,-19),(-6.2,-19.8),(-6.8,-20.6),(-7.8,-20.4),(-8.4,-19.8),(-5.4,-20.6),(-7.2,-21.6),(-5.4,-18.6),(-9,-21),(-4.6,-19.8),
    (-25.2,-8.6),(-24.4,-8.4),(-23.8,-9.2),(-24.4,-10),(-25.4,-9.8),(-26,-9.2),(-23,-10),(-24.8,-11),(-23.2,-8),(-26.4,-7.8),(-22.4,-11),
    (-4.2,-13.4),(-3.4,-13.2),(-2.8,-14),(-3.4,-14.8),(-4.4,-14.6),(-5,-14),(-2,-14.8),(-3.8,-16),(-2.2,-13),(-5.6,-15),(-1.4,-13.6),
    (-.8,-8.6),(0,-8.4),(.6,-9.2),(0,-10),(-1,-9.8),(-1.6,-9.2),(1.2,-10.2),(-.4,-11),(1.4,-8),(-2.2,-7.8),(1.8,-6.6),(-11,-3),(-10.2,-2.8),(-9.6,-3.6),(-10.4,-4.4),
    (29.6,-31),(30.4,-30.8),(31,-31.6),(30.4,-32.4),(29.4,-32.2),(28.8,-31.6),(31.8,-32.4),(30,-33.4),(31.8,-30.6),(28.2,-30.4),
    (35.2,-29.8),(36,-29.6),(36.6,-30.4),(36,-31.2),(35,-31),(34.4,-30.4),(37.4,-31),(35.6,-32.2),(37.4,-29.2),(34,-29),(36.4,-28.4),
    (35.8,-21),(36.6,-20.8),(37.2,-21.6),(36.6,-22.4),(35.6,-22.2),(35,-21.6),(38,-22.2),(36.2,-23.4),(38,-20.4),(34.4,-20.4),(37.4,-24),
    (45.6,-19.8),(46.4,-19.6),(47,-20.4),(46.4,-21.2),(45.4,-21),(44.8,-20.4),(47.8,-21),(46,-22.2),(47.6,-19),(44.2,-19),(46.6,-17.6),
    (20.4,-17.4),(21.2,-17.2),(21.8,-18),(21.2,-18.8),(20.2,-18.6),(19.6,-18),(22.6,-18.8),(20.8,-20),(22.6,-16.8),(19,-16.6),(21.4,-15.4),(18.6,-20),
    (27.8,-11),(28.6,-10.8),(29.2,-11.6),(28.6,-12.4),(27.6,-12.2),(27,-11.6),(30,-12.4),(28.2,-13.4),(30,-10.6),(26.4,-10.4),(31,-11.4),(25.6,-11.6),
    (12.4,-4.4),(13.2,-4.2),(13.8,-5),(13.2,-5.8),(12.2,-5.6),(11.6,-5),(14.6,-5.8),(14.8,-4.2),(10.8,-4),(15.6,-5),
    (43.8,-8.6),(44.6,-8.4),(45.2,-9.2),(44.6,-10),(43.6,-9.8),(43,-9.2),(46,-10),(44.2,-11),(46,-8),(42.4,-8),(47,-9),
    (36.8,-3.2),(37.6,-3),(38.2,-3.8),(37.6,-4.6),(36.6,-4.4),(36,-3.8),(39,-4.6),(37.2,-5.6),(39,-2.8),(35.4,-2.8),
    (75.2,-12.8),(76,-12.6),(76.6,-13.4),(76,-14.2),(75,-14),(74.4,-13.4),(77.4,-14),(75.6,-15.2),(77.4,-12.2),(73.8,-12),(74,-15.4),(78.4,-13),
    (78.2,-7.4),(79,-7.2),(79.6,-8),(79,-8.8),(78,-8.6),(77.4,-8),(80.4,-8.8),(80.2,-5.8),(76.6,-6.6),(76,-7.6),(75.4,-9),
    (69,-5.2),(69.8,-5),(70.4,-5.8),(69.8,-6.6),(68.8,-6.4),(68.2,-5.8),(71.2,-6.6),(67.4,-6.4),(71,-3.6),(66.6,-4),
    (72.4,-7),(73.2,-6.8),(73.8,-7.6),(73.2,-8.4),(72.2,-8.2),(71.6,-7.6),(74.6,-8.4),(73,-9.6),(74.6,-6.8),(75.4,-6),
    (2.6,-78),(3.4,-77.8),(4,-78.6),(3.4,-79.4),(7,-65.4),(7.8,-66),(6.4,-66.6),(7.2,-67),(3.2,-7),(4,-7.8),(3,-8.4),(2.4,-7.2),
]
time_yellow = [
    (-23.6,82),(-27,79),(-27,77),(-26,77),(-23,77),(-21,76),(-19.5,78.5),(-18,79.4),(-16.5,77.6),(-11.7,75.8),(-18.2,77),(-17,77),(-27,74),(-23.4,75),
    (-22.2,74),(-24.2,73),(-16.2,73.5),(-17,72),(-13,71.8),(-11.7,71),(-18.2,70.9),(-20.5,71.8),(-26.2,70),(-27,69),(-25,69),(-21,69.7),(-19,68.6),
    (-15.7,70),(-15,68),(-13.9,67),(-16.2,67),(-22.8,66.7),(-21.6,66),(-20.2,66.5),(-19.4,65),(-26.5,65.3),(-23.4,64.3),(-20.8,64.4),(-18.2,63.5),(-17,63),
    (-22.2,63),(-25.9,61.7),(-23,60.8),(-20,60.3),(-17,60),(-15.4,60.5),(-13,60.8),(-20.5,57.9),(-17,57.6),(-15.9,61.7),(-34.2,74),(-31,71.3),(-33.3,70),
    (-28.4,78),(-27.6,78),(-28,76.4),(-26.6,75.6),(-22.6,76),(-24.6,74.6),(-16.6,74.6),(-25.6,68.4),(-27.6,70),(-14.4,68.8),(-14.8,66.4),(-13.4,68.4),(-21.4,67.4),(-19.6,64),(-18.8,62.4),
    (-34.9,68),(-33.2,67.8),(-30.3,67.3),(-33.2,60.4),(-7.7,58.9),(-8.5,57.3),(-7,57.9),(-4.6,62),(1.7,57.7),(-25.2,49.8),(3.4,49.3),(-32.5,41.5),(-36.9,39.2),
    (-5.3,42.5),(-25.8,35),(-13,33.7),(-45.5,33.1),(-17.8,30.3),(-5.8,30.6),(-43.7,28.5),(-49.3,26.2),(-11.7,28.3),(-.6,27.8),(-21.4,24.1),(-4.4,21),(-.7,21.8),
    (-51,19.6),(-34,17.2),(2.7,18.3),(-76.9,16.5),(-68.4,15),(-60.6,15),(-52.6,16.5),(-31.2,14.9),(-36,11.8),(-27.4,12),(-76.9,10.6),(1.9,12.8),(-36.3,10),
    (-37.3,7),(-62,7.7),(-72.5,6.9),(-58.3,5.8),(-20.4,5.4),(-41.5,3),(-63,2),(-74,1.9),(-29,1.2),(-15.6,1.5),(-12.3,1.8),(-2,5),(.4,.4),
    (8.3,67.2),(4.4,61.6),(6.5,58.9),(36.4,56.1),(26.6,55.5),(18.3,52.9),(23.3,52.6),(29.7,52.5),(32.2,50.8),(3.6,49.2),(13.1,46.7),(14.4,46.6),(20,44.5),
    (45.7,46.3),(44.9,45),(46,41.3),(11.4,41),(12.9,40.5),(35.4,38),(37.3,37.9),(38.9,37.9),(42.7,33.9),(54,34.3),(55.4,34.1),(29.8,32.4),(30.7,31.4),(34.3,32),
    (33.7,30.7),(44,31.2),(45.6,31.2),(36.7,28),(20.9,27.4),(62.1,29.6),(61.5,29.9),(62.6,29),(56.3,24.5),(58.1,25.4),(56.3,21.5),(38.2,20.2),(6.1,15.9),(73.8,18.4),
    (69.1,15.3),(75,12.2),(74.6,11.4),(61.5,10.3),(60.7,8.1),(75.8,8.7),(75.8,7.7),(35.4,11.7),(4.4,8.8),(14.3,7.9),(39.6,5.7),(36.7,4.7),(62.1,3.7),(38,2.2),
    (31.4,2.2),(33.3,.4),(75,-1),(-72.6,-1.4),(-46.3,-4.7),(-37,-3.2),(-33.9,-2.2),(-41.4,-5.6),(-66.1,-8.3),(-65.5,-9.4),(-61.7,-9.7),(-60.6,-13),(-49,-13.9),
    (-51.3,-17.5),(-48.4,-18.2),(-37.8,-17.3),(-30.7,-16.5),(-33.9,-15.6),(-34.8,-8.8),(-39,-10.9),(-26.4,-10.9),(-12.3,-6.2),(-5.1,-5.5),(-15.4,-9.4),(-18.8,-12.4),
    (-20.4,-14),(-18.8,-15),(-9.1,-18),(.7,-17.9),(2.5,-12),(-26,-24),(-63.5,-25),(-56.2,-26.9),(-51.2,-27.4),(-52.8,-30.4),(-39.1,-30.3),(-23.5,-30.6),(-16.1,-29.9),
    (-14,-32),(-3,-30.1),(-2.6,-32),(-2.1,-34.1),(-1.4,-25.7),(1.5,-26.3),(-35.5,-35.3),(-19.1,-35.8),(-18.5,-37),(-19.4,-40.5),(-2.3,-42.9),(-1.3,-43.6),(-11.1,-44.2),
    (-3.4,-54.1),(-3.4,-55.4),(2.5,-57.2),(-21.9,-62.7),(-.9,-76.9),(0,-76.7),(19.1,-5.5),(32.6,-4.3),(32.7,-3.5),(36,-5.1),(35,-6.5),(38.6,-6.2),(46.3,-2.2),(47.5,-3.8),
    (35.7,-9),(7.7,-12),(47.1,-12),(54.4,-9.9),(32.9,-13.4),(13.4,-14.4),(18.7,-14.6),(32.7,-15.6),(16.3,-21.8),(39.3,-21),(43.1,-22.5),(47.4,-23.3),(9.3,-29.1),
    (26.6,-31.3),(46.3,-31),(32.6,-34.1),(38.6,-35.3),(38.6,-34.5),(25.1,-35.3),(28.5,-36.8),(34.9,-35.8),(13.5,-34.8),(7.9,-38.7),(6.9,-41.7),(8.4,-45.7),(28.9,-45.4),
    (29.8,-45.8),(23.1,-49.1),(27,-49.2),(61.9,-10.5),(63.5,-13.8),(55.3,-17.5),(68.7,-20.5),(71.1,-20.4),(65.1,-24.8),(74.1,-12.2),(79,-17),(80.9,-2.5),(78.4,-5.9),
    (80.3,-6.6),(81.4,-8.3),(82.2,-9.7),(77.4,-8.7),
]

# right panel, class 0
gcn_rings = [
    (-.84,1.17),(-1.0,1.2),(-1.18,1.17),(-1.34,1.12),(-1.5,1.02),(-1.65,.93),(-1.81,.82),(-1.94,.71),(-2.05,.57),(-2.15,.42),(-2.26,.28),(-2.36,.13),(-2.44,-.04),
    (-2.53,-.21),(-2.56,-.33),(-2.57,-.5),(-2.57,-.64),(-2.54,-.79),(-2.52,-.91),(-2.49,-1.03),(-2.54,-1.18),(-2.52,-1.3),(-2.47,-1.44),(-2.41,-1.59),(-2.33,-1.73),
    (-2.26,-1.88),(-2.15,-2.0),(-2.05,-2.14),(-1.92,-2.27),(-1.81,-2.35),(-1.65,-2.46),(-1.44,-2.57),(-1.31,-2.64),(-1.13,-2.68),(-.89,-2.68),(-1.0,-2.68),
    (-.75,-2.24),(-.73,-2.39),(-.66,-2.58),(-.51,-2.73),(-.37,-2.73),(-.21,-2.73),(-.05,-2.68),(.1,-2.63),(.26,-2.58),(.39,-2.48),(.5,-2.36),(.6,-2.24),
    (.84,-2.16),(.92,-2.05),(1.02,-1.9),(1.1,-1.78),(1.18,-1.64),(1.26,-1.49),(1.34,-1.37),(1.39,-1.22),(.97,-.89),(1.13,-.89),(1.29,-.89),(1.44,-.86),(1.44,-1.03),
    (1.08,.2),(1.21,.08),(1.26,-.04),(1.36,-.18),(1.38,-.28),(1.35,-.45),(1.29,-.51),(1.14,-.55),(1.05,-.06),(-.56,1.26),(-.42,1.27),(-.25,1.23),(-.08,1.2),(.05,1.12),
    (.1,1.0),(.05,.91),(-.05,.78),(.05,.78),(.26,1.03),(.42,.98),(.55,.93),(.65,.86),
    (.97,.52),(.84,.58),(.71,.57),(.58,.49),(.39,.45),(.21,.37),(.05,.35),(-.1,.37),(-.24,.47),(-.37,.57),(-.52,.59),(-.71,.64),(-.87,.61),(-1.0,.57),(-1.13,.49),
    (-1.23,.4),(-1.31,.28),(-1.26,.18),(-1.42,.23),(-1.5,.11),(-1.55,-.04),(-1.63,-.16),(-1.34,.59),(-1.36,.76),(-1.57,.71),(-1.44,.93),(-.94,.88),(-.79,.81),(-.63,.71),
    (-1.99,.13),(-1.73,-.01),(-1.78,-.18),(-1.94,-.21),(-2.05,-.3),(-1.84,-.33),(-1.89,-.45),(-1.99,-.47),(-1.94,-.62),(-2.05,-.63),(-1.6,-.6),(-1.47,-.47),
    (.18,.28),(.29,.08),(.42,-.01),(.5,-.11),(.58,-.23),(.66,-.33),(.71,-.47),(.79,-.6),(.81,-.74),(.81,-.89),(.79,-1.03),(.73,-1.13),(.79,-1.27),(.76,-1.42),(.73,-1.54),
    (.55,-1.56),(.42,-1.66),(.26,-1.66),(.29,-1.81),(.73,-1.76),(.6,.2),(.5,.16),(.8,.19),(.62,-.84),(.51,-1.1),
    (-1.05,-.06),(-.92,.01),(-.76,.06),(-.6,.06),(-.45,.03),(-.29,.08),(-.13,.13),(.03,.15),(-.47,.24),(-.6,.15),(-.97,-.21),(-.87,-.09),(-.71,-.04),(-.55,-.11),(-.68,-.14),
    (-.34,-.14),(-.31,-.3),(-.18,-.3),(-.03,-.38),(.06,-.49),(.24,-.55),(.29,-.67),(.29,-.81),(.31,-1.01),(.13,-1.03),(-.03,-1.08),(-.16,-1.15),(-.21,-1.27),(-.18,-1.37),(.21,-.89),
]
gcn_inner = [
    (-1.21,-.35),(-1.08,-.47),(-1.17,-.64),(-1.0,-.57),(-.84,-.6),(-.68,-.6),(-.5,-.57),(-.34,-.56),(-.18,-.57),(-.31,-.72),(-.47,-.79),(-.6,-.81),(-.8,-.81),(-.92,-.76),
    (-.37,-.84),(-.17,-.91),(-1.26,-.81),(-1.29,-.96),(-1.16,-.89),(-.81,-1.03),(-.66,-1.1),(-.5,-1.01),(-1.12,-1.19),(-.72,-1.35),(-1.5,-.91),(-1.39,-1.1),(-1.26,-1.25),
    (-1.15,-1.37),(-1.05,-1.49),(-.94,-1.64),(-.79,-1.73),(-.76,-1.61),(-.6,-1.66),(-.45,-1.64),(-.35,-1.63),(-.21,-1.61),(-.05,-1.56),(.16,-1.64),(-.84,-1.49),(-.94,-1.32),
    (-2.15,-.84),(-1.99,-.96),(-1.72,-.89),(-1.56,-.85),(-1.43,-.84),(-1.81,-1.01),(-1.81,-1.13),(-2.02,-1.15),(-1.55,-1.13),(-1.52,-1.27),(-2.2,-1.39),(-2.07,-1.39),
    (-2.23,-1.49),(-2.15,-1.61),(-1.99,-1.59),(-1.97,-1.44),(-1.76,-1.46),(-1.63,-1.42),(-1.76,-1.59),(-1.55,-1.54),(-1.53,-1.67),(-1.73,-1.81),(-1.6,-1.85),(-1.78,-1.97),
    (-1.57,-1.95),(-1.49,-2.08),(-1.73,-2.19),(-1.52,-2.24),(-1.36,-2.06),(-1.23,-2.1),(-1.08,-2.12),(-.94,-2.05),(-1.31,-2.19),(-1.36,-2.32),(-1.0,-2.23),(-.71,-2.04),
    (-.55,-2.1),(-.37,-2.1),(-.31,-1.97),(-.21,-2.1),(-.03,-2.07),(.1,-1.97),(.08,-2.19),(.31,-2.0),(.29,-2.24),
]
# second pass along the same arcs, where the reference trace is solid
gcn_fill = [
    (-.92,1.2),(-1.09,1.19),(-1.26,1.15),(-1.42,1.07),(-1.58,.98),(-1.73,.87),(-1.88,.77),(-2.0,.64),(-2.1,.5),(-2.2,.35),(-2.31,.2),(-2.4,.05),(-2.49,-.12),(-2.55,-.27),
    (-2.57,-.42),(-2.57,-.57),(-2.56,-.72),(-2.53,-.85),(-2.5,-.97),(-2.52,-1.11),(-2.53,-1.24),(-2.5,-1.37),(-2.44,-1.51),(-2.37,-1.66),(-2.3,-1.8),(-2.2,-1.94),(-2.1,-2.07),
    (-1.98,-2.2),(-1.86,-2.31),(-1.73,-2.41),(-1.55,-2.52),(-1.38,-2.61),(-1.22,-2.66),(-1.06,-2.68),(-.95,-2.67),
    (-.74,-2.31),(-.7,-2.48),(-.59,-2.66),(-.44,-2.73),(-.29,-2.73),(-.13,-2.71),(.02,-2.66),(.18,-2.61),(.33,-2.53),(.45,-2.42),(.55,-2.3),(.88,-2.1),(.97,-1.97),(1.06,-1.84),
    (1.14,-1.71),(1.22,-1.56),(1.3,-1.43),(1.37,-1.3),(1.05,-.89),(1.21,-.89),(1.37,-.88),(1.15,.14),(1.31,-.11),(1.37,-.36),(-.49,1.27),(-.33,1.25),(-.17,1.22),(0,1.16),
    (.08,1.06),(.08,.95),(0,.84),(.34,1.0),(.48,.96),(.6,.9),(.9,.56),(.78,.58),(.65,.53),(.48,.47),(.3,.41),(.13,.36),(-.02,.36),(-.17,.42),(-.3,.52),(-.45,.58),(-.62,.62),
    (-.79,.62),(-.94,.59),(-1.07,.53),(-1.18,.45),(-1.27,.34),(-1.34,.22),(-1.46,.17),(-1.52,.04),(-1.59,-.1),(-1.2,.3),(-1.1,.42),(-1.22,.15),(-1.3,.05),(-1.38,.13),(-1.44,.36),
    (-1.35,.67),(-1.48,.3),(-.86,.85),(-.71,.76),(-.58,.67),
    (-1.87,-.26),(-1.7,-.07),(-1.65,-.2),(-1.96,-.38),(-1.78,-.4),(-1.91,-.53),(-2.0,-.55),(-1.85,-.1),(-1.69,-.3),
    (.24,.18),(.35,.03),(.46,-.06),(.54,-.17),(.62,-.28),(.69,-.4),(.75,-.53),(.8,-.67),(.82,-.81),(.8,-.96),(.76,-1.08),(.76,-1.2),(.78,-1.35),(.75,-1.48),(.64,-1.56),(.48,-1.61),
    (.34,-1.66),(.6,-1.6),(.65,-1.7),(.45,-1.72),(.2,-1.72),
    (-1.0,-.02),(-.84,.04),(-.68,.06),(-.52,.05),(-.37,.06),(-.21,.11),(-.05,.14),(.1,.17),(-.8,-.05),(-.6,-.1),(-.92,-.15),(-.78,-.1),(-.5,-.05),(-.63,0),
    (-.33,-.22),(-.25,-.3),(-.1,-.34),(.02,-.43),(.15,-.52),(.27,-.6),(.3,-.74),(.3,-.91),(.22,-1.02),(.05,-1.05),(-.1,-1.12),(-.19,-1.21),(-.2,-1.32),(-.25,-.35),(-.1,-.44),(-.25,-.46),
    (.14,-.95),(.05,-.95),(-.1,-1.0),(.2,-1.1),
    (-1.15,-.41),(-1.08,-.55),(-.92,-.58),(-.76,-.6),(-.59,-.58),(-.42,-.56),(-.26,-.57),(-.39,-.75),(-.54,-.8),(-.7,-.81),(-.86,-.79),(-.6,-.7),(-.75,-.7),(-.45,-.67),(-.9,-.66),(-.5,-.9),
    (-.27,-.8),(-1.27,-.88),(-1.22,-.92),(-.74,-1.07),(-.58,-1.06),(-.66,-.98),(-.9,-1.1),
    (-1.45,-1.0),(-1.33,-1.18),(-1.2,-1.31),(-1.1,-1.43),(-1.0,-1.57),(-.87,-1.7),(-.68,-1.64),(-.53,-1.65),(-.28,-1.62),(-.13,-1.58),(.04,-1.55),(-.9,-1.42),(-.87,-1.57),(-.7,-1.72),(-.97,-1.42),
    (-2.07,-.9),(-1.64,-.87),(-1.5,-.84),(-1.8,-1.07),(-1.54,-1.2),(-2.13,-1.39),(-2.2,-1.44),(-2.2,-1.55),(-2.07,-1.6),(-1.98,-1.52),(-1.7,-1.44),(-1.67,-1.58),(-1.54,-1.6),(-1.67,-1.83),
    (-1.68,-1.96),(-1.53,-2.02),(-1.3,-2.08),(-1.16,-2.11),(-1.01,-2.08),(-1.33,-2.26),(-.63,-2.07),(-.3,-2.04),(-.12,-2.08),(.03,-2.02),(.09,-2.08),
]
gcn_far = [(12.47,12.33),(12.52,12.38),(12.57,12.43),(12.6,12.47),(12.1,10.97)]
gcn_yellow = [
    (-1.55,1.0),(-.81,1.17),(-.25,1.23),(-1.99,.6),(-1.67,.89),(-2.56,-.32),(-2.57,-.51),(-1.99,-.3),(-2.0,-.47),(-.73,.54),(-.52,.59),(-.35,.55),(-.15,.61),(-.09,.37),
    (.23,.4),(.65,.45),(-.59,.15),(-.55,-.11),(.29,.07),(-.18,-.3),(-.17,-.56),(.06,-.49),(-1.08,-.47),(-.8,-.81),(-.5,-1.0),(-.16,-.89),(-1.72,-.89),(-1.56,-.85),(-2.02,-1.14),
    (-1.55,-1.29),(-1.55,-1.67),(1.23,.07),(1.26,-.04),(.7,-.46),(.78,-.6),(1.39,-1.21),(.9,-2.07),(.1,-2.63),(-.37,-2.72),(-.24,-2.73),(-.13,-2.69),(-1.31,-2.64),(-1.82,-2.34),
    (-2.02,-2.17),(-1.57,-1.95),(-.34,-2.02),(-.73,-2.24),(-.97,-2.24),(-.35,-1.64),(0,-1.57),(.45,-1.66),(.55,-1.66),(-.17,-1.36),(.76,-1.3),(-1.0,-.22),
]

legend_labels = ["Time", "GCN"]

purple_left = time_top + time_upper + time_mid_left + time_mid_right + time_lower_right + time_lower_left + time_clumps
purple_right = gcn_rings + gcn_inner + gcn_fill + gcn_far

left = np.array(purple_left + time_yellow)
left_c = np.array([0] * len(purple_left) + [1] * len(time_yellow))
right = np.array(purple_right + gcn_yellow)
right_c = np.array([0] * len(purple_right) + [1] * len(gcn_yellow))

plt.figure(figsize=(10, 5))

plt.subplot(1, 2, 1)
plt.scatter(left[:, 0], left[:, 1], s=1, c=left_c, label=legend_labels[0])
plt.xlim(-85.2, 90)
plt.ylim(-93.3, 91.2)
plt.legend(loc="upper right")

plt.subplot(1, 2, 2)
plt.scatter(right[:, 0], right[:, 1], s=1, c=right_c, label=legend_labels[1])
plt.xlim(-3.31, 13.36)
plt.ylim(-3.49, 13.23)
plt.legend(loc="upper left")

plt.savefig("out.png", dpi=300)
